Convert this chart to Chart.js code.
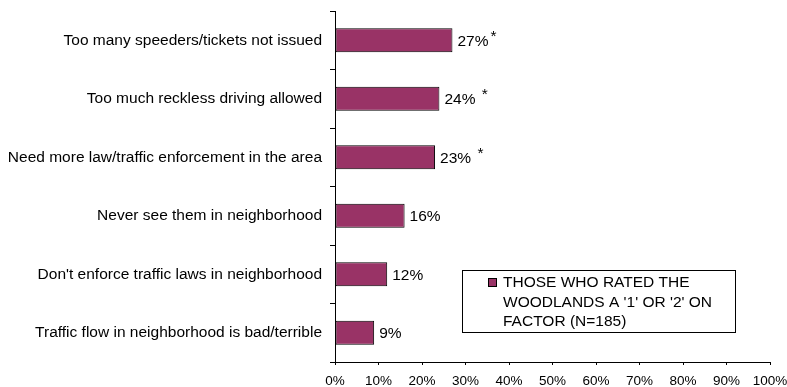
<!DOCTYPE html>
<html>
<head>
<meta charset="utf-8">
<script src="https://cdn.jsdelivr.net/npm/chart.js@4/dist/chart.umd.min.js"></script>
<style>
  html, body { margin: 0; padding: 0; background: #fff; }
  #wrap { width: 787px; height: 387px; }
</style>
</head>
<body>
<div id="wrap"><canvas id="chart" width="787" height="387"></canvas></div>
<script>
// Reasons given for a low rating of traffic enforcement
const categories = [
  "Too many speeders/tickets not issued",
  "Too much reckless driving allowed",
  "Need more law/traffic enforcement in the area",
  "Never see them in neighborhood",
  "Don't enforce traffic laws in neighborhood",
  "Traffic flow in neighborhood is bad/terrible"
];
const percentValues = [27, 24, 23, 16, 12, 9];
const significanceNotes = ["*", " *", " *", "", "", ""];
const xTickValues = [0, 10, 20, 30, 40, 50, 60, 70, 80, 90, 100];
const seriesLegendLines = [
  "THOSE WHO RATED THE",
  "WOODLANDS A '1' OR '2' ON",
  "FACTOR (N=185)"
];

const FONT = "'Liberation Sans', Arial, Helvetica, sans-serif";
const BAR_COLOR = "#993366";
const TEXT_SIZE = 15.5;

// Percent labels next to each bar, with a raised asterisk where noted
const valueLabels = {
  id: "valueLabels",
  afterDatasetsDraw(chart) {
    const ctx = chart.ctx;
    const meta = chart.getDatasetMeta(0);
    ctx.save();
    ctx.font = TEXT_SIZE + "px " + FONT;
    ctx.fillStyle = "#000";
    ctx.textBaseline = "middle";
    ctx.textAlign = "left";
    meta.data.forEach((bar, i) => {
      const txt = percentValues[i] + "%";
      const x = bar.x + 5;
      ctx.fillText(txt, x, bar.y + 1);
      const note = significanceNotes[i];
      if (note) {
        const w = ctx.measureText(txt).width;
        ctx.fillText(note, x + w + 2, bar.y - 4);
      }
    });
    ctx.restore();
  }
};

// Boxed legend inside the plot area
const boxLegend = {
  id: "boxLegend",
  afterDraw(chart) {
    const ctx = chart.ctx;
    ctx.save();
    ctx.strokeStyle = "#000";
    ctx.lineWidth = 1;
    ctx.strokeRect(462.5, 270.5, 273, 62);
    ctx.fillStyle = BAR_COLOR;
    ctx.fillRect(488.5, 278.5, 8, 8);
    ctx.strokeRect(488.5, 278.5, 8, 8);
    ctx.fillStyle = "#000";
    ctx.font = TEXT_SIZE + "px " + FONT;
    ctx.textBaseline = "middle";
    ctx.textAlign = "left";
    seriesLegendLines.forEach((line, i) => {
      ctx.fillText(line, 503, 283 + i * 19.5);
    });
    ctx.restore();
  }
};

new Chart(document.getElementById("chart"), {
  type: "bar",
  data: {
    labels: categories,
    datasets: [{
      label: seriesLegendLines.join(" "),
      data: percentValues,
      backgroundColor: BAR_COLOR,
      borderColor: "#000",
      borderWidth: 1,
      borderSkipped: false,
      barPercentage: 0.41,
      categoryPercentage: 1.0
    }]
  },
  options: {
    indexAxis: "y",
    responsive: false,
    animation: false,
    devicePixelRatio: 1,
    layout: { padding: { top: 11, right: 17, bottom: 0, left: 0 } },
    plugins: {
      legend: { display: false },
      tooltip: { enabled: false }
    },
    scales: {
      y: {
        type: "category",
        afterFit(scale) {
          scale.width = 335;
          scale.paddingTop = 0;
          scale.paddingBottom = 0;
        },
        grid: {
          display: true,
          drawOnChartArea: false,
          drawTicks: true,
          tickLength: 5,
          color: "#000",
          offset: true
        },
        border: { display: true, color: "#000", width: 1 },
        ticks: {
          color: "#000",
          padding: 8,
          font: { family: FONT, size: TEXT_SIZE }
        }
      },
      x: {
        type: "linear",
        min: 0,
        max: 100,
        afterFit(scale) {
          scale.height = 25;
          scale.paddingLeft = 0;
          scale.paddingRight = 0;
        },
        afterBuildTicks(scale) {
          scale.ticks = xTickValues.map(v => ({ value: v }));
        },
        grid: {
          display: true,
          drawOnChartArea: false,
          drawTicks: true,
          tickLength: 3,
          color: "#000"
        },
        border: { display: true, color: "#000", width: 1 },
        ticks: {
          color: "#000",
          padding: 8,
          maxRotation: 0,
          autoSkip: false,
          font: { family: FONT, size: 13.5 },
          callback: v => v + "%"
        }
      }
    }
  },
  plugins: [valueLabels, boxLegend]
});
</script>
</body>
</html>
